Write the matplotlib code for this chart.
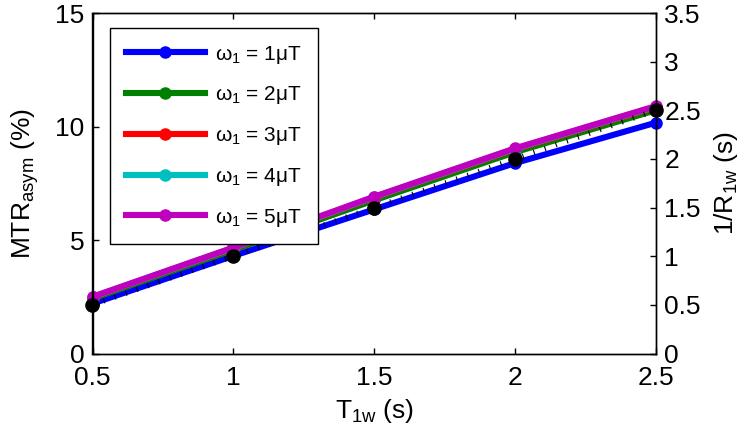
import matplotlib
matplotlib.use("Agg")
import matplotlib.pyplot as plt

plt.rcParams['font.family'] = ['Liberation Sans', 'DejaVu Sans']
plt.rcParams['mathtext.fontset'] = 'custom'
plt.rcParams['mathtext.rm'] = 'Liberation Sans'
plt.rcParams['mathtext.it'] = 'Liberation Sans'
plt.rcParams['mathtext.default'] = 'regular'
plt.rcParams['lines.scale_dashes'] = False

# Data
t1w = [0.5, 1.0, 1.5, 2.0, 2.5]
mtr_w1 = [2.20, 4.30, 6.35, 8.39, 10.17]
mtr_w2 = [2.42, 4.56, 6.75, 8.87, 10.72]
mtr_w3 = [2.48, 4.63, 6.87, 8.99, 10.85]
mtr_w4 = [2.49, 4.65, 6.89, 9.02, 10.88]
mtr_w5 = [2.50, 4.67, 6.91, 9.04, 10.90]
inv_r1w = [0.5, 1.0, 1.5, 2.0, 2.5]

series = [mtr_w1, mtr_w2, mtr_w3, mtr_w4, mtr_w5]
labels = ['ω$_1$ = 1μT', 'ω$_1$ = 2μT', 'ω$_1$ = 3μT', 'ω$_1$ = 4μT', 'ω$_1$ = 5μT']
colors = [(0, 0, 1), (0, 0.5, 0), (1, 0, 0), (0, 0.75, 0.75), (0.75, 0, 0.75)]

xticks = [0.5, 1, 1.5, 2, 2.5]
xticklabels = ['0.5', '1', '1.5', '2', '2.5']
lyticks = [0, 5, 10, 15]
ryticks = [0, 0.5, 1, 1.5, 2, 2.5, 3, 3.5]
ryticklabels = ['0', '0.5', '1', '1.5', '2', '2.5', '3', '3.5']

fig = plt.figure(figsize=(7.5, 4.36), dpi=100)
ax = fig.add_axes([92.5/750, 1 - 353.5/436, (656 - 92.5)/750, (353.5 - 13)/436])
ax2 = ax.twinx()

handles = []
for y, lab, c in zip(series, labels, colors):
    h, = ax.plot(t1w, y, '-', color=c, lw=4.4, marker='o', ms=8,
                 mfc=c, mec=c, label=lab, clip_on=False)
    handles.append(h)

ax2.plot(t1w, inv_r1w, color='k', lw=3.8, linestyle=(0, (0.8, 7.6)),
         solid_capstyle='butt', dash_capstyle='butt')
ax2.plot(t1w, inv_r1w, linestyle='none', marker='o', ms=9.5, color='k',
         clip_on=False)

ax.set_xlim(0.5, 2.5)
ax.set_ylim(0, 15)
ax2.set_ylim(0, 3.5)
ax.set_xticks(xticks)
ax.set_xticklabels(xticklabels)
ax.set_yticks(lyticks)
ax2.set_yticks(ryticks)
ax2.set_yticklabels(ryticklabels)

fs = 19
ax.tick_params(axis='both', direction='in', length=4, width=1, labelsize=fs)
ax.tick_params(axis='x', top=True, pad=9)
ax.tick_params(axis='y', right=False, pad=6)
ax2.tick_params(axis='y', direction='in', length=4, width=1, labelsize=fs, pad=6)

for a in (ax, ax2):
    for s in a.spines.values():
        s.set_linewidth(1.0)

ax.set_xlabel('T$_{1w}$ (s)', fontsize=fs, labelpad=5)
ax.set_ylabel('MTR$_{asym}$ (%)', fontsize=fs, labelpad=10)
ax2.set_ylabel('1/R$_{1w}$ (s)', fontsize=fs, labelpad=8)

leg = ax2.legend(handles=handles, loc='upper left',
                 bbox_to_anchor=(110/750, 1 - 28/436), bbox_transform=fig.transFigure,
                 fontsize=15, frameon=True, fancybox=False, framealpha=1,
                 edgecolor='k', handlelength=3.8, handletextpad=0.5,
                 labelspacing=0.9, borderpad=0.75, borderaxespad=0)
leg.get_frame().set_linewidth(1.0)

fig.savefig('out.png', dpi=100)
